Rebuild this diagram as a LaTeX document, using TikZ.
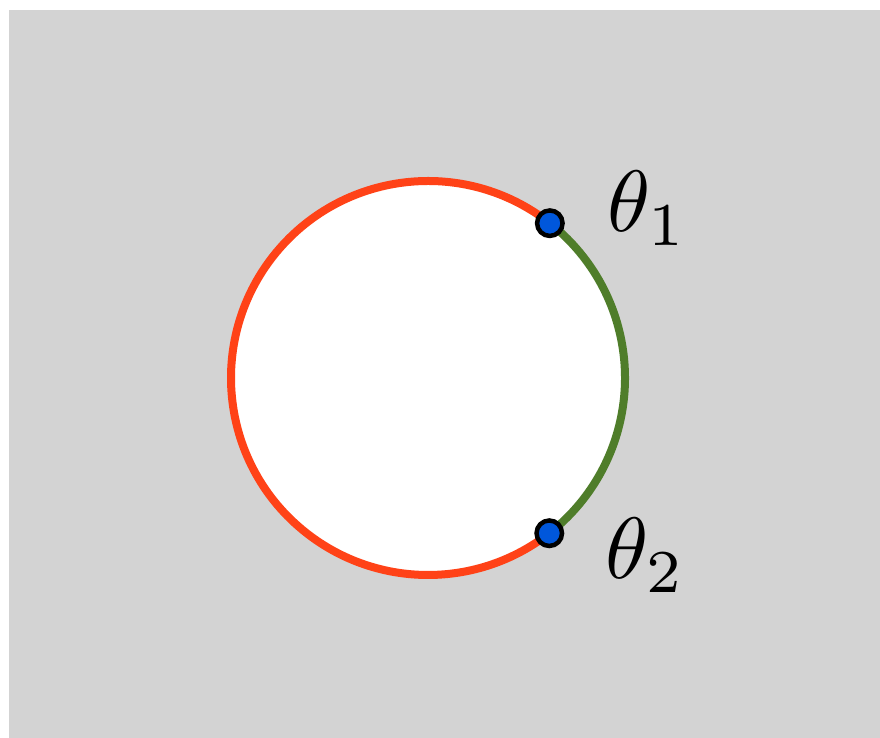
\documentclass[tikz,border=0pt]{standalone}
\usepackage{tikz}
\usetikzlibrary{calc}
\definecolor{bgray}{HTML}{D3D3D3}
\definecolor{arcred}{HTML}{FF4217}
\definecolor{arcgreen}{HTML}{4F7D2A}
\definecolor{dotblue}{HTML}{0057DB}
\newcommand{\biglbl}[1]{\scalebox{8.7}{#1}}
\tikzset{
  redarc/.style={draw=arcred, line width=8pt},
  greenarc/.style={draw=arcgreen, line width=8pt},
  dotpt/.style={circle, fill=dotblue, draw=black, line width=4.5pt, minimum size=25.5pt, inner sep=0pt},
  lbl/.style={inner sep=0pt, anchor=base west, font=\normalsize}
}
\begin{document}
\begin{tikzpicture}[x=1pt,y=1pt]
\useasboundingbox (0,0) rectangle (880,738);
\fill[bgray] (9,0) rectangle (880,728);
\coordinate (c) at (428,360);
\fill[white] (c) circle (197);
\coordinate (p1) at ($(c)+(51.8:197)$);
\coordinate (p2) at ($(c)+(-52:197)$);
\draw[redarc] (p1) arc[start angle=51.8, end angle=308, radius=197];
\draw[greenarc] (p2) arc[start angle=-52, end angle=51.8, radius=197];
\node[dotpt] (d1) at (p1) {};
\node[dotpt] (d2) at (p2) {};
\node[lbl] (t1) at (607,506) {\biglbl{$\theta_1$}};
\node[lbl] (t2) at (605,159) {\biglbl{$\theta_2$}};
\end{tikzpicture}
\end{document}
